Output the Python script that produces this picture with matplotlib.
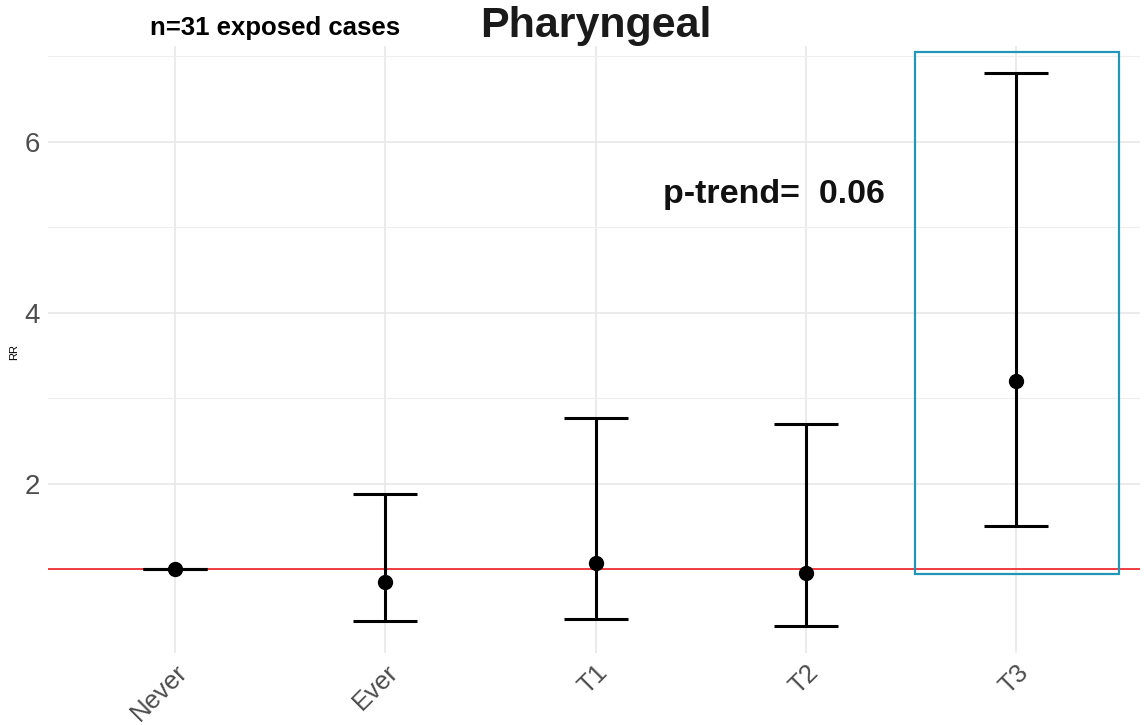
import matplotlib
matplotlib.use("Agg")
import matplotlib.pyplot as plt
from matplotlib.patches import Rectangle
from matplotlib.ticker import FixedLocator

plt.rcParams['font.family'] = ['Liberation Sans', 'DejaVu Sans']

categories = ["Never", "Ever", "T1", "T2", "T3"]
rr = [1.0, 0.85, 1.08, 0.96, 3.20]
lower = [1.0, 0.40, 0.42, 0.34, 1.51]
upper = [1.0, 1.88, 2.77, 2.70, 6.81]
title = "Pharyngeal"
subtitle = "n=31 exposed cases"
ptrend_label = "p-trend=  0.06"

fig = plt.figure(figsize=(11.48, 7.25), dpi=100)
ax = fig.add_axes([0.0418, 0.0993, 0.9512, 0.8373])

x = list(range(1, len(categories) + 1))

ax.set_xlim(0.395, 5.59)
ax.set_ylim(0.023, 7.123)

# grid
ax.yaxis.set_major_locator(FixedLocator([2, 4, 6]))
ax.yaxis.set_minor_locator(FixedLocator([1, 3, 5, 7]))
ax.xaxis.set_major_locator(FixedLocator(x))
ax.grid(which='major', color='#e6e6e6', linewidth=1.1, zorder=0)
ax.grid(which='minor', axis='y', color='#eeeeee', linewidth=0.8, zorder=0)
ax.set_axisbelow(True)

for s in ax.spines.values():
    s.set_visible(False)
ax.tick_params(which='both', length=0)
ax.tick_params(axis='y', labelsize=20, labelcolor='#4d4d4d', pad=6)
ax.tick_params(axis='x', labelsize=18.5, labelcolor='#4d4d4d', pad=5)
ax.set_xticklabels(categories, rotation=45, ha='right', va='top', rotation_mode='anchor')
ax.set_yticklabels(["2", "4", "6"])

# reference line
ax.axhline(1.0, color='#ee1c24', linewidth=1.2, zorder=2)

# error bars
ax.errorbar(x, rr, yerr=[[r - l for r, l in zip(rr, lower)], [u - r for r, u in zip(rr, upper)]],
            fmt='o', color='black', ecolor='black', elinewidth=2.2, capsize=23, capthick=2.2,
            markersize=10, zorder=3)

# highlight box around T3
ax.add_patch(Rectangle((4.52, 0.95), 0.97, 6.10, fill=False, edgecolor='#2196b8',
                       linewidth=1.6, zorder=4, clip_on=False))

ax.text(3.85, 5.38, ptrend_label, fontsize=24.5, fontweight='bold', ha='center', va='center',
        color='#111111')

fig.text(14 / 1148, 1 - 352 / 725, "RR", fontsize=8, rotation=90, ha='center', va='center',
         color='black')

fig.text(0.519, 0.964, title, fontsize=31, fontweight='bold', ha='center', va='center',
         color='#1a1a1a')
fig.text(0.131, 0.961, subtitle, fontsize=18.5, fontweight='bold', ha='left', va='center',
         color='black')

fig.savefig("out.png", dpi=100)
